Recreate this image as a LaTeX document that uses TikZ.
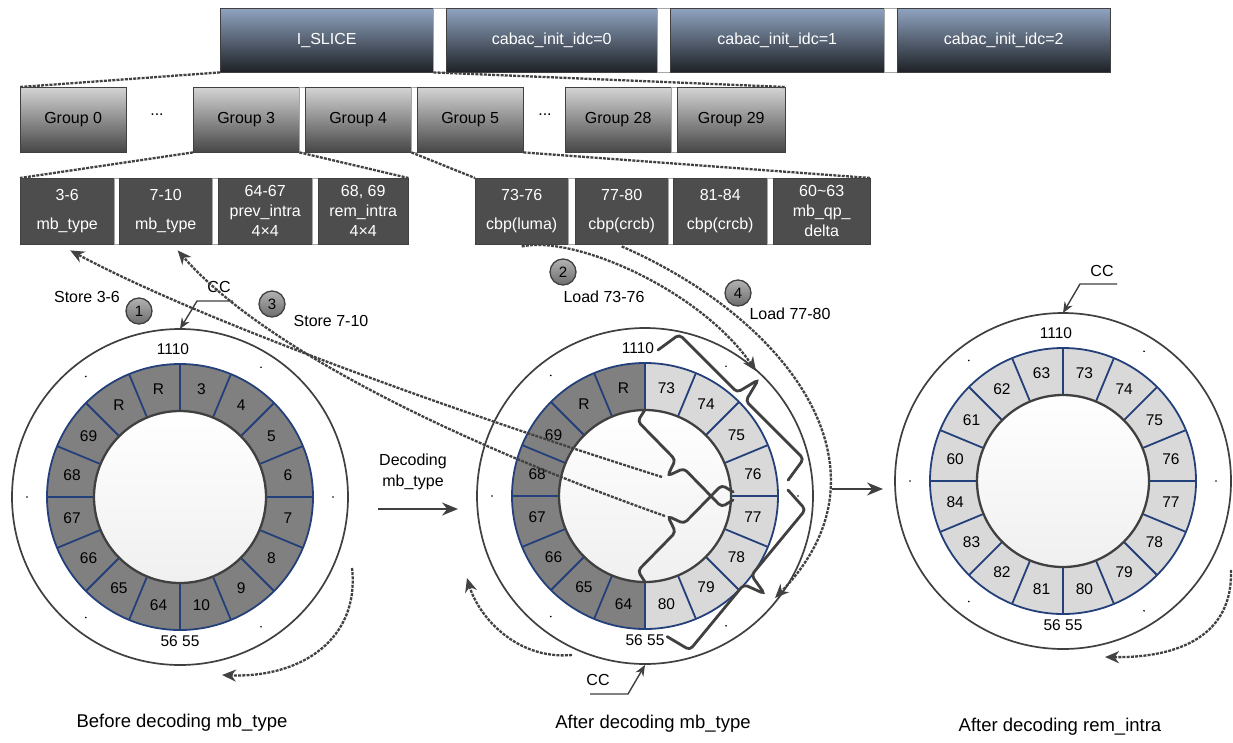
\documentclass[tikz,border=0pt]{standalone}
\usepackage{fontspec}
\setmainfont{Liberation Sans}
\usepackage{xcolor}
\definecolor{barblue}{RGB}{143,163,192}
\definecolor{barmid}{RGB}{86,98,116}
\definecolor{bardark}{RGB}{30,33,38}
\definecolor{grptop}{RGB}{212,212,212}
\definecolor{grpbot}{RGB}{70,70,70}
\definecolor{fldgray}{RGB}{77,77,77}
\definecolor{segdark}{RGB}{128,128,128}
\definecolor{seglight}{RGB}{217,217,217}
\definecolor{segline}{RGB}{36,64,122}
\definecolor{linegray}{RGB}{64,64,64}
\definecolor{dashgray}{RGB}{66,66,66}
\usetikzlibrary{arrows.meta,positioning,calc}

\begin{document}
\begin{tikzpicture}[x=1pt,y=1pt,
  topbox/.style={draw=linegray,top color=barblue,middle color=barmid,bottom color=bardark,text=white,minimum height=64pt,inner sep=0pt,anchor=north west,font=\fontsize{16}{19}\selectfont},
  sepbar/.style={draw=gray!70,fill=white,inner sep=0pt,anchor=north west},
  grpbox/.style={draw=linegray,top color=grptop,bottom color=grpbot,minimum width=106pt,minimum height=65pt,inner sep=0pt,anchor=north west,font=\fontsize{16}{19}\selectfont},
  fldbox/.style={draw=linegray,fill=fldgray,text=white,minimum height=66pt,inner sep=0pt,anchor=north west,align=center,font=\fontsize{16}{29}\selectfont},
  fld3/.style={fldbox,font=\fontsize{16}{20}\selectfont},
  dotsl/.style={inner sep=0pt,font=\fontsize{16}{19}\selectfont},
  ringlab/.style={inner sep=0pt,font=\fontsize{15.5}{18}\selectfont},
  note/.style={inner sep=0pt,align=center,font=\fontsize{16}{21}\selectfont},
  caption/.style={inner sep=0pt,font=\fontsize{18.5}{22}\selectfont},
  numc/.style={circle,draw=linegray,line width=1.3pt,top color=gray!60,bottom color=gray!85!black,minimum size=26pt,inner sep=0pt,font=\fontsize{15}{18}\selectfont},
  ringout/.style={draw=linegray,line width=1.7pt},
  ringin/.style={draw=linegray,line width=2.3pt,top color=white,bottom color=gray!12},
  segln/.style={draw=segline,line width=1.8pt},
  dashln/.style={draw=dashgray,line width=2.3pt,dash pattern=on 3pt off 1.2pt},
  dasharr/.style={dashln,-{Stealth[length=14pt,width=12pt]}},
  ccarr/.style={draw=linegray,line width=1.4pt,-{Stealth[length=11pt,width=9pt]}},
  bigarr/.style={draw=linegray,line width=1.7pt,-{Stealth[length=16pt,width=13pt]}},
  bracel/.style={draw=linegray,line width=2.8pt,rounded corners=4pt,line cap=round}]
\useasboundingbox (0,0) rectangle (1233,-742);
\fill[white] (0,0) rectangle (1233,-742);

% slice row
\node[topbox,minimum width=213pt] (islice) at (220,-8) {I\_SLICE};
\node[sepbar,minimum width=13pt,minimum height=64pt] (ts1) at (433,-8) {};
\node[topbox,minimum width=211pt] (idc0) at (446,-8) {cabac\_init\_idc=0};
\node[sepbar,minimum width=13pt,minimum height=64pt] (ts2) at (657,-8) {};
\node[topbox,minimum width=214pt] (idc1) at (670,-8) {cabac\_init\_idc=1};
\node[sepbar,minimum width=13pt,minimum height=64pt] (ts3) at (884,-8) {};
\node[topbox,minimum width=213pt] (idc2) at (897,-8) {cabac\_init\_idc=2};

% group row
\node[grpbox] (g0) at (20,-87) {Group 0};
\node[dotsl] (gd1) at (157,-115) {...};
\node[grpbox] (g3) at (193,-87) {Group 3};
\node[sepbar,minimum width=6pt,minimum height=65pt] (gs1) at (299,-87) {};
\node[grpbox] (g4) at (305,-87) {Group 4};
\node[sepbar,minimum width=6pt,minimum height=65pt] (gs2) at (411,-87) {};
\node[grpbox] (g5) at (417,-87) {Group 5};
\node[dotsl] (gd2) at (545,-115) {...};
\node[grpbox] (g28) at (565,-87) {Group 28};
\node[sepbar,minimum width=6pt,minimum height=65pt] (gs3) at (671,-87) {};
\node[grpbox,minimum width=108pt] (g29) at (677,-87) {Group 29};

% field row
\node[fldbox,minimum width=94pt] (f36) at (20,-178) {3-6\\mb\_type};
\node[sepbar,minimum width=5pt,minimum height=66pt] (fs1) at (114,-178) {};
\node[fldbox,minimum width=93pt] (f710) at (119,-178) {7-10\\mb\_type};
\node[sepbar,minimum width=6pt,minimum height=66pt] (fs2) at (212,-178) {};
\node[fld3,minimum width=94pt] (f6467) at (218,-178) {64-67\\prev\_intra\\4×4};
\node[sepbar,minimum width=6pt,minimum height=66pt] (fs3) at (312,-178) {};
\node[fld3,minimum width=90pt] (f6869) at (318,-178) {68, 69\\rem\_intra\\4×4};
\node[fldbox,minimum width=93pt] (f7376) at (475,-178) {73-76\\cbp(luma)};
\node[sepbar,minimum width=7pt,minimum height=66pt] (fs4) at (568,-178) {};
\node[fldbox,minimum width=93pt] (f7780) at (575,-178) {77-80\\cbp(crcb)};
\node[sepbar,minimum width=5pt,minimum height=66pt] (fs5) at (668,-178) {};
\node[fldbox,minimum width=94pt] (f8184) at (673,-178) {81-84\\cbp(crcb)};
\node[sepbar,minimum width=6pt,minimum height=66pt] (fs6) at (767,-178) {};
\node[fld3,minimum width=97pt] (f6063) at (773,-178) {60\textasciitilde63\\mb\_qp\_\\delta};

\draw[dashln] (islice.south west) -- (g0.north west);
\draw[dashln] (islice.south east) -- (g29.north east);
\draw[dashln] (g3.south west) -- (f36.north west);
\draw[dashln] (g3.south east) -- (f6869.north east);
\draw[dashln] (g4.south east) -- (f7376.north west);
\draw[dashln] (g5.south east) -- (f6063.north east);

% rings
\coordinate (lc) at (180,-497);
\coordinate (mc) at (645,-496);
\coordinate (rc) at (1063,-481);
\fill[segdark,even odd rule] (lc) circle (133) (lc) circle (86);
\fill[seglight,even odd rule] (rc) circle (133) (rc) circle (86);
\fill[segdark] ($(mc)+(90:133)$) arc[start angle=90,end angle=270,radius=133]
  -- ($(mc)+(270:86)$) arc[start angle=270,end angle=90,radius=86] -- cycle;
\fill[seglight] ($(mc)+(90:133)$) arc[start angle=90,end angle=-90,radius=133]
  -- ($(mc)+(-90:86)$) arc[start angle=-90,end angle=90,radius=86] -- cycle;
\foreach \c in {lc,mc,rc}{
  \draw[ringout] (\c) circle (168);
  \foreach \a in {0,22.5,...,337.5}
    \draw[segln] ($(\c)+(\a:86)$) -- ($(\c)+(\a:133)$);
  \draw[segln] (\c) circle (133);
  \draw[ringin] (\c) circle (86);
  \foreach \a in {0,58,128,180,232,302}
    \fill ($(\c)+(\a:153)$) circle (0.9);
  \node[ringlab] (\c-top) at ($(\c)+(-7,148)$) {1110};
  \node[ringlab] (\c-bot) at ($(\c)+(0,-144)$) {56 55};
}
\foreach \t [count=\i from 0] in {3,4,5,6,7,8,9,10,64,65,66,67,68,69,R,R}
  \node[ringlab] (lc-\i) at ($(lc)+({78.75-22.5*\i}:110)$) {\t};
\foreach \t [count=\i from 0] in {73,74,75,76,77,78,79,80,64,65,66,67,68,69,R,R}
  \node[ringlab] (mc-\i) at ($(mc)+({78.75-22.5*\i}:110)$) {\t};
\foreach \t [count=\i from 0] in {73,74,75,76,77,78,79,80,81,82,83,84,60,61,62,63}
  \node[ringlab] (rc-\i) at ($(rc)+({78.75-22.5*\i}:110)$) {\t};

% CC pointers
\node[note] (lcc) at (219,-287) {CC};
\coordinate (lccs) at (233,-301);
\coordinate (lcin) at ($(lc)+(0,168)$);
\draw[ccarr] (lccs) -- ++(-36,0) -- (lcin);
\node[note] (mcc) at (598,-680) {CC};
\coordinate (mccs) at (590,-694);
\coordinate (mcin) at ($(mc)+(0,-169)$);
\draw[ccarr] (mccs) -- ++(38,0) -- (mcin);
\node[note] (rcc) at (1102,-271) {CC};
\coordinate (rccs) at (1117,-284);
\coordinate (rcin) at ($(rc)+(0,168)$);
\draw[ccarr] (rccs) -- ++(-37,0) -- (rcin);

% braces in the middle ring
\coordinate (b1s) at ($(mc)+(13,146)$);
\coordinate (b2s) at ($(mc)+(143,6)$);
\coordinate (b3s) at ($(mc)+(88,-4)$);
\coordinate (b4s) at ($(mc)+(0,-86)$);
\begin{scope}[shift={(b1s)},rotate=-45]
  \draw[bracel] (0,0) -- (4,26) -- (86,26) -- (92,50) -- (98,26) -- (180,26) -- (184,0);
\end{scope}
\begin{scope}[shift={(b2s)},rotate=-129.5]
  \draw[bracel] (0,0) -- (4,26) -- (89,26) -- (95,48) -- (101,26) -- (186,26) -- (190,0);
\end{scope}
\begin{scope}[shift={(b3s)},rotate=134.4]
  \draw[bracel] (0,0) -- (3,13) -- (57,13) -- (63,30) -- (69,13) -- (123,13) -- (126,0);
\end{scope}
\begin{scope}[shift={(b4s)},rotate=45.6]
  \draw[bracel] (0,0) -- (3,13) -- (57,13) -- (63,30) -- (69,13) -- (123,13) -- (126,0);
\end{scope}

% store / load moves
\coordinate (st1) at (662,-477);
\coordinate (st2) at (665,-516);
\coordinate (ld1) at (756,-371);
\coordinate (ld2) at (775,-598);
\draw[dasharr] (st1) .. controls (450,-410) and (200,-320) .. ([xshift=3pt,yshift=-6pt]f36.south);
\draw[dasharr] (st2) .. controls (450,-440) and (260,-345) .. ([xshift=12pt,yshift=-6pt]f710.south);
\draw[dasharr] ([yshift=-2pt]f7376.south) .. controls (575,-235) and (700,-290) .. (ld1);
\draw[dasharr] ([yshift=-2pt]f7780.south) .. controls (790,-320) and (900,-470) .. (ld2);
\node[numc] (n1) at (139,-311) {1};
\node[numc] (n2) at (563,-272) {2};
\node[numc] (n3) at (272,-304) {3};
\node[numc] (n4) at (738,-293) {4};
\node[note] (s36) at (87,-297) {Store 3-6};
\node[note] (s710) at (331,-321) {Store 7-10};
\node[note] (l7376) at (604,-297) {Load 73-76};
\node[note] (l7780) at (790,-314) {Load 77-80};

% rotation of the rings
\coordinate (lr1) at (352,-568);
\coordinate (lr2) at (222,-675);
\draw[dasharr] (lr1) .. controls (360,-640) and (300,-678) .. (lr2);
\coordinate (mr1) at (572,-655);
\coordinate (mr2) at (467,-578);
\draw[dasharr] (mr1) .. controls (515,-660) and (478,-615) .. (mr2);
\coordinate (rr1) at (1231,-570);
\coordinate (rr2) at (1105,-657);
\draw[dasharr] (rr1) .. controls (1233,-635) and (1180,-658) .. (rr2);

% steps
\node[note] (dec) at (413,-472) {Decoding\\mb\_type};
\coordinate (da) at (378,-509);
\coordinate (db) at (458,-509);
\draw[bigarr] (da) -- (db);
\coordinate (ea) at (832,-489);
\coordinate (eb) at (883,-489);
\draw[bigarr] (ea) -- (eb);

\node[caption] (cap1) at (182,-723) {Before decoding mb\_type};
\node[caption] (cap2) at (653,-724) {After decoding mb\_type};
\node[caption] (cap3) at (1060,-727) {After decoding rem\_intra};
\end{tikzpicture}
\end{document}
